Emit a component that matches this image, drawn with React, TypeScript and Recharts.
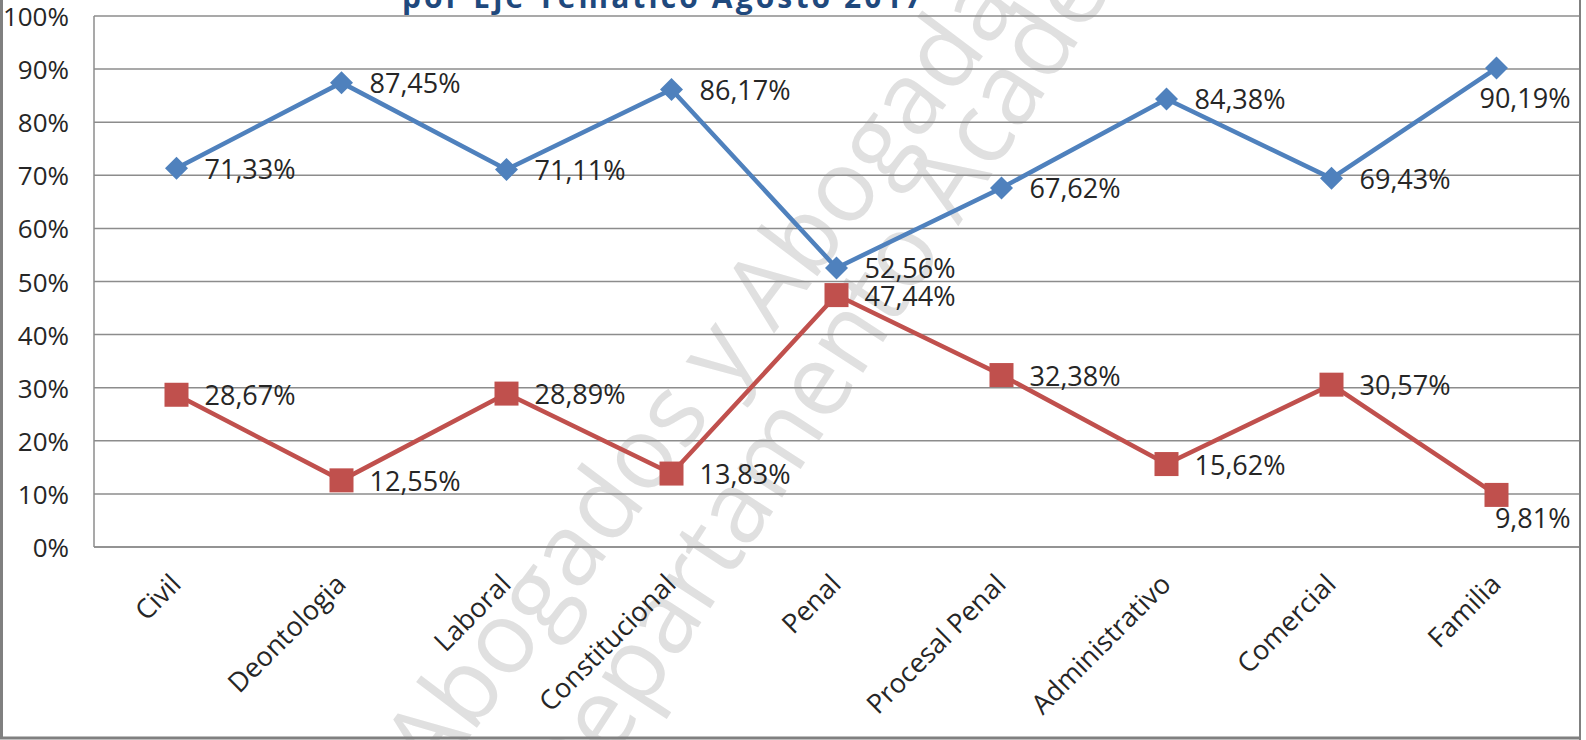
import { LineChart, Line, XAxis, YAxis, CartesianGrid, LabelList } from "recharts";

const categories = ["Civil", "Deontologia", "Laboral", "Constitucional", "Penal", "Procesal Penal", "Administrativo", "Comercial", "Familia"];
const aprobados = [71.33, 87.45, 71.11, 86.17, 52.56, 67.62, 84.38, 69.43, 90.19];
const reprobados = [28.67, 12.55, 28.89, 13.83, 47.44, 32.38, 15.62, 30.57, 9.81];
const yTicks = [0, 10, 20, 30, 40, 50, 60, 70, 80, 90, 100];

const titleText = "por Eje Temático Agosto 2017";
const watermark1 = "Abogados y Abogadas";
const watermark2 = "Departamento Académico";

const BLUE = "#4F81BD";
const RED = "#C0504D";
const FONT = "'Open Sans', sans-serif";

const chartData = categories.map((name, i) => ({
    name,
    aprobados: aprobados[i],
    reprobados: reprobados[i],
}));

const fmt = (v: number) => `${v.toFixed(2).replace(".", ",")}%`;

const renderDiamond = (props: any) => {
    const { cx, cy, index } = props;
    const r = 11.5;
    return (
        <path
            key={`dia-${index}`}
            d={`M${cx},${cy - r} L${cx + r},${cy} L${cx},${cy + r} L${cx - r},${cy} Z`}
            fill={BLUE}
        />
    );
};

const renderSquare = (props: any) => {
    const { cx, cy, index } = props;
    const s = 24;
    return <rect key={`sq-${index}`} x={cx - s / 2} y={cy - s / 2} width={s} height={s} fill={RED} />;
};

// labels sit right of the point, the last one is pushed below to stay inside
const makeLabel = (below: number) => (props: any) => {
    const { x, y, value, index } = props;
    const last = index === categories.length - 1;
    return (
        <text
            x={last ? x + 74 : x + 28}
            y={last ? y + below : y}
            textAnchor={last ? "end" : "start"}
            dominantBaseline="central"
            fontFamily={FONT}
            fontSize={27}
            fill="#262626"
        >
            {fmt(value)}
        </text>
    );
};

const XTick = ({ x, y, payload }: any) => (
    <text
        x={x + 6}
        y={y + 31}
        transform={`rotate(-45, ${x + 6}, ${y + 31})`}
        textAnchor="end"
        fontFamily={FONT}
        fontSize={27}
        fill="#262626"
    >
        {payload.value}
    </text>
);

const YTick = ({ y, payload }: any) => (
    <text x={69} y={y} textAnchor="end" dominantBaseline="central" fontFamily={FONT} fontSize={26} fill="#262626">
        {payload.value}%
    </text>
);

const App = () => {
    return (
        <div style={{ position: "relative", width: 1586, height: 740, background: "#fff", overflow: "hidden" }}>
            <style>{`body { margin: 0; }`}</style>
            <svg width={1586} height={740} style={{ position: "absolute", left: 0, top: 0 }}>
                <g fill="#e0e0e0" fontFamily={FONT} fontSize={100}>
                    <text x={742} y={376} textAnchor="middle" transform="rotate(-53, 742, 376)">
                        {watermark1}
                    </text>
                    <text x={904} y={310} textAnchor="middle" transform="rotate(-57, 904, 310)">
                        {watermark2}
                    </text>
                </g>
                <text x={402} y={8} fontFamily={FONT} fontSize={30} fontWeight="bold" fill="#1F497D" textLength={520}>
                    {titleText}
                </text>
            </svg>
            <div style={{ position: "absolute", left: 0, top: 0 }}>
                <LineChart width={1586} height={740} data={chartData} margin={{ top: 16, right: 7, bottom: 0, left: 0 }}>
                    <CartesianGrid vertical={false} stroke="#8c8c8c" strokeWidth={1.5} />
                    <XAxis
                        dataKey="name"
                        interval={0}
                        tickLine={false}
                        axisLine={{ stroke: "#8c8c8c", strokeWidth: 1.5 }}
                        tick={<XTick />}
                        height={193}
                        padding={{ left: 82.5, right: 82.5 }}
                    />
                    <YAxis
                        domain={[0, 100]}
                        ticks={yTicks}
                        width={94}
                        tickLine={false}
                        axisLine={{ stroke: "#8c8c8c", strokeWidth: 1.5 }}
                        tick={<YTick />}
                    />
                    <Line
                        dataKey="aprobados"
                        stroke={BLUE}
                        strokeWidth={4.5}
                        dot={renderDiamond}
                        activeDot={false}
                        isAnimationActive={false}
                    >
                        <LabelList dataKey="aprobados" content={makeLabel(29)} />
                    </Line>
                    <Line
                        dataKey="reprobados"
                        stroke={RED}
                        strokeWidth={4.5}
                        dot={renderSquare}
                        activeDot={false}
                        isAnimationActive={false}
                    >
                        <LabelList dataKey="reprobados" content={makeLabel(23)} />
                    </Line>
                </LineChart>
            </div>
            <svg width={1586} height={740} style={{ position: "absolute", left: 0, top: 0, pointerEvents: "none" }}>
                <line x1={1.5} y1={0} x2={1.5} y2={738} stroke="#808080" strokeWidth={3} />
                <line x1={0} y1={738} x2={1581} y2={738} stroke="#808080" strokeWidth={3} />
                <line x1={1580} y1={0} x2={1580} y2={740} stroke="#808080" strokeWidth={2} />
            </svg>
        </div>
    );
};

export default App;
